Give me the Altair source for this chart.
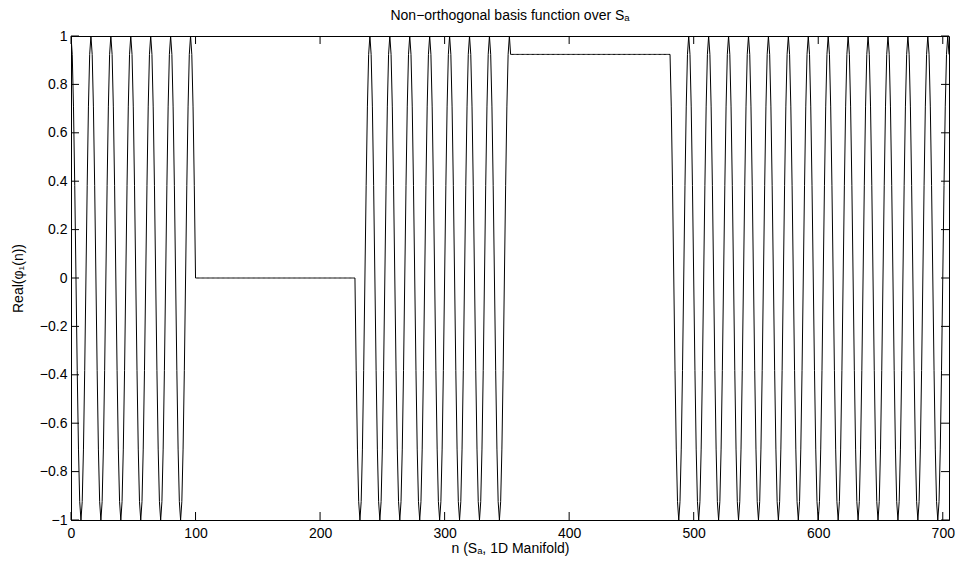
import altair as alt
import pandas as pd

cycle_values = [1.0, 0.924, 0.707, 0.383, 0.0, -0.383, -0.707, -0.924,
                -1.0, -0.924, -0.707, -0.383, 0.0, 0.383, 0.707, 0.924]

# Piecewise structure of the signal along n
segment_kind = ["wave", "flat", "wave", "flat", "wave"]
segment_start = [0, 101, 229, 354, 481]
segment_end = [100, 228, 353, 480, 705]
segment_level = [0.0, 0.0, 0.0, 0.924, 0.0]

x_ticks = [0, 100, 200, 300, 400, 500, 600, 700]
y_ticks = [-1, -0.8, -0.6, -0.4, -0.2, 0, 0.2, 0.4, 0.6, 0.8, 1]
x_max = 705

title_text = "Non\u2212orthogonal basis function over S\u2090"
x_title = "n (S\u2090, 1D Manifold)"
y_title = "Real(\u03c6\u2081(n))"

rows = []
for kind, s, e, lvl in zip(segment_kind, segment_start, segment_end, segment_level):
    for n in range(s, e + 1):
        v = cycle_values[n % len(cycle_values)] if kind == "wave" else lvl
        rows.append({"n": n, "value": v})
df = pd.DataFrame(rows)

W, H = 878, 484
TL = 8
FS = 14

xscale = alt.Scale(domain=[0, x_max], nice=False, zero=False)
yscale = alt.Scale(domain=[-1, 1], nice=False, zero=False)

x_axis = alt.Axis(values=x_ticks, title=x_title, ticks=False, grid=False,
                  labelPadding=6, titlePadding=1, format="d", labelFlush=False,
                  domainColor="black", labelColor="black", titleColor="black")
y_axis = alt.Axis(values=y_ticks, title=y_title, ticks=False, grid=False,
                  labelPadding=4, titlePadding=14, labelFlush=False,
                  labelExpr="replace(format(datum.value, '~g'), '-', '\u2212')",
                  domainColor="black", labelColor="black", titleColor="black")

line = alt.Chart(df).mark_line(color="black", strokeWidth=1, clip=True).encode(
    x=alt.X("n:Q", scale=xscale, axis=x_axis),
    y=alt.Y("value:Q", scale=yscale, axis=y_axis),
)

xt = pd.DataFrame({"n": x_ticks})
yt = pd.DataFrame({"value": y_ticks})

bottom_ticks = alt.Chart(xt).mark_rule(color="black", strokeWidth=1).encode(
    x=alt.X("n:Q", scale=xscale, axis=x_axis), y=alt.value(H), y2=alt.value(H - TL))
top_ticks = alt.Chart(xt).mark_rule(color="black", strokeWidth=1).encode(
    x=alt.X("n:Q", scale=xscale, axis=x_axis), y=alt.value(0), y2=alt.value(TL))
left_ticks = alt.Chart(yt).mark_rule(color="black", strokeWidth=1).encode(
    y=alt.Y("value:Q", scale=yscale, axis=y_axis), x=alt.value(0), x2=alt.value(TL))
right_ticks = alt.Chart(yt).mark_rule(color="black", strokeWidth=1).encode(
    y=alt.Y("value:Q", scale=yscale, axis=y_axis), x=alt.value(W), x2=alt.value(W - TL))

chart = alt.layer(line, bottom_ticks, top_ticks, left_ticks, right_ticks).properties(
    width=W, height=H,
    title=alt.TitleParams(title_text, fontSize=FS, fontWeight="normal", color="black",
                          anchor="middle", baseline="alphabetic", offset=-5),
    autosize=alt.AutoSizeParams(type="none"),
    padding={"left": 71, "top": 36, "right": 10, "bottom": 47},
).configure(
    font="Liberation Sans",
    background="white",
).configure_axis(
    labelFontSize=FS, titleFontSize=FS, titleFontWeight="normal",
    labelFont="Liberation Sans", titleFont="Liberation Sans",
    domainWidth=1,
).configure_view(stroke="black", strokeWidth=1)

chart.save("out.html", embed_options={"renderer": "svg", "actions": False})
